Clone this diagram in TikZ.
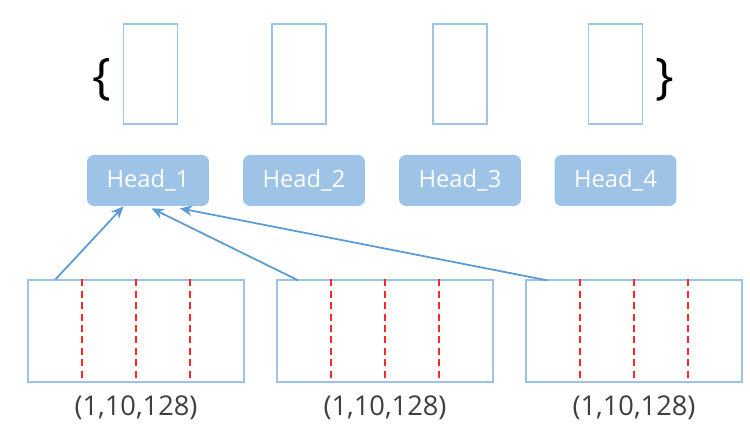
\documentclass[tikz,border=0pt]{standalone}
\usepackage{fontspec}
\setmainfont{Open Sans}
\usetikzlibrary{arrows.meta,calc}
\definecolor{edgeblue}{RGB}{157,195,230}
\definecolor{linkblue}{RGB}{91,155,213}
\definecolor{headfill}{RGB}{157,195,230}
\definecolor{txtgray}{RGB}{64,64,64}
\definecolor{cutred}{RGB}{255,40,40}

\begin{document}
\begin{tikzpicture}[x=0.02cm,y=-0.02cm,
    slot/.style={draw=edgeblue,line width=0.8pt,minimum width=1.08cm,minimum height=2cm,inner sep=0pt},
    headbox/.style={fill=headfill,rounded corners=4pt,minimum width=2.44cm,minimum height=1.02cm,
      inner sep=0pt,text=white,font=\fontsize{13.5}{15}\selectfont},
    chunk/.style={draw=edgeblue,line width=0.8pt,minimum width=4.32cm,minimum height=2.04cm,inner sep=0pt},
    shape lbl/.style={text=txtgray,font=\fontsize{15.5}{17}\selectfont,inner sep=0pt},
    brace/.style={font=\fontsize{28}{30}\selectfont,inner sep=0pt},
    cut/.style={cutred,line width=1.1pt,dash pattern=on 4pt off 2.5pt},
    feed/.style={draw=linkblue,line width=1pt,-{Stealth[length=7pt,width=6pt]}}]
  \useasboundingbox (0,0) rectangle (750,429);
  % output slots and braces
  \foreach \i/\x in {1/150.5,2/299,3/460,4/615.5}
    \node[slot] (slot\i) at (\x,74) {};
  \node[brace] (lbrace) at (102,80) {\{};
  \node[brace] (rbrace) at (665,80) {\}};
  % heads
  \foreach \i/\x in {1/148,2/304,3/460,4/615.5}
    \node[headbox] (head\i) at (\x,180.5) {Head\_\i};
  % input chunks, split into four parts
  \foreach \i/\x in {1/136,2/385,3/634}{
    \node[chunk] (in\i) at (\x,331) {};
    \foreach \f in {0.25,0.5,0.75}
      \draw[cut] ($(in\i.north west)!\f!(in\i.north east)$) -- ($(in\i.south west)!\f!(in\i.south east)+(0,-4)$);
    \node[shape lbl] (dim\i) at (\x,408) {(1,10,128)};
  }
  % first part of every chunk goes to Head_1
  \draw[feed] ($(in1.north west)!0.13!(in1.north east)$) -- ($(head1.south west)!0.3!(head1.south east)$);
  \draw[feed] ($(in2.north west)!0.1!(in2.north east)+(0,1)$) -- ($(head1.south west)!0.53!(head1.south east)+(0,2)$);
  \draw[feed] ($(in3.north west)!0.1!(in3.north east)+(0,1)$) -- ($(head1.south west)!0.76!(head1.south east)+(0,2)$);
\end{tikzpicture}
\end{document}
